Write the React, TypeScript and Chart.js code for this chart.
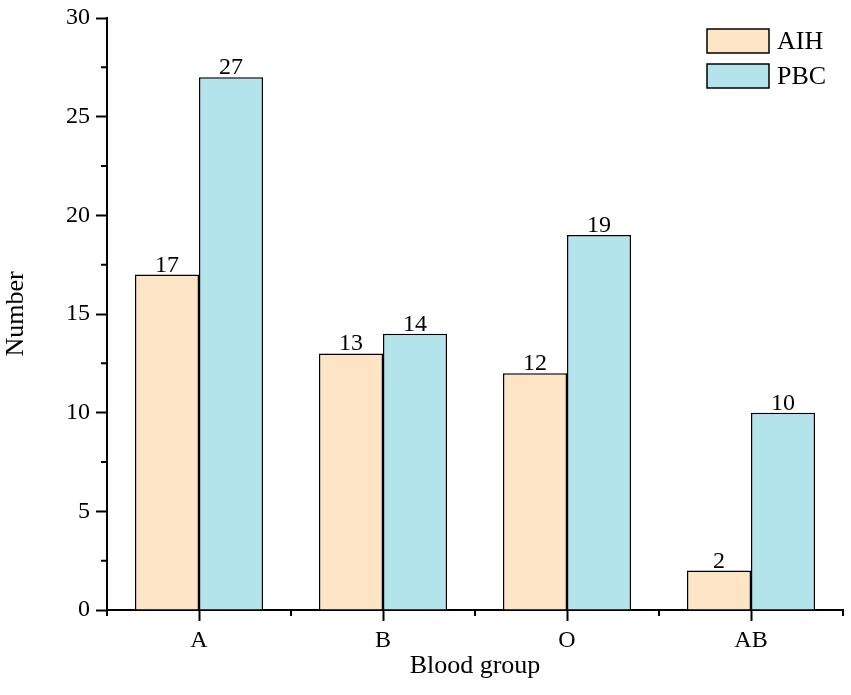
import React, { useEffect, useRef } from "react";
import { Chart, registerables } from "chart.js";

Chart.register(...registerables);

const categories = ["A", "B", "O", "AB"];
const aihValues = [17, 13, 12, 2];
const pbcValues = [27, 14, 19, 10];
const seriesLabels = ["AIH", "PBC"];
const yTicks = [0, 5, 10, 15, 20, 25, 30];

const AIH_COLOR = "#FDE4C5";
const PBC_COLOR = "#B3E4EC";
const FONT = "'Liberation Serif', 'Times New Roman', serif";

const decorPlugin = {
  id: "decor",
  afterDatasetsDraw(chart: any) {
    const ctx = chart.ctx;
    const xs = chart.scales.x;
    const ys = chart.scales.y;
    ctx.save();
    // value labels
    ctx.fillStyle = "#000";
    ctx.font = `24px ${FONT}`;
    ctx.textAlign = "center";
    ctx.textBaseline = "alphabetic";
    chart.data.datasets.forEach((ds: any, di: number) => {
      const meta = chart.getDatasetMeta(di);
      meta.data.forEach((bar: any, i: number) => {
        ctx.fillText(String(ds.data[i]), bar.x, bar.y - 3);
      });
    });
    // minor ticks
    ctx.strokeStyle = "#000";
    ctx.lineWidth = 2;
    ctx.beginPath();
    for (let v = 2.5; v < 30; v += 5) {
      const y = ys.getPixelForValue(v);
      ctx.moveTo(ys.right, y);
      ctx.lineTo(ys.right - 6, y);
    }
    const n = categories.length;
    for (let i = 0; i <= n; i++) {
      const x = xs.getPixelForValue(i - 0.5);
      ctx.moveTo(x, xs.top);
      ctx.lineTo(x, xs.top + 6);
    }
    ctx.stroke();
    // legend
    const boxW = 62;
    const boxH = 24;
    const lx = 707;
    const ly = [29, 64];
    ctx.font = `26px ${FONT}`;
    ctx.textAlign = "left";
    ctx.textBaseline = "middle";
    chart.data.datasets.forEach((ds: any, di: number) => {
      ctx.fillStyle = ds.backgroundColor;
      ctx.fillRect(lx, ly[di], boxW, boxH);
      ctx.lineWidth = 1.5;
      ctx.strokeStyle = "#000";
      ctx.strokeRect(lx, ly[di], boxW, boxH);
      ctx.fillStyle = "#000";
      ctx.fillText(ds.label, lx + boxW + 8, ly[di] + boxH / 2 + 1);
    });
    ctx.restore();
  },
};

export default function App() {
  const ref = useRef<HTMLCanvasElement | null>(null);
  useEffect(() => {
    if (!ref.current) return;
    const chart = new Chart(ref.current, {
      type: "bar",
      data: {
        labels: categories,
        datasets: [
          {
            label: seriesLabels[0],
            data: aihValues,
            backgroundColor: AIH_COLOR,
            borderColor: "#000",
            borderWidth: 1.5,
            categoryPercentage: 0.696,
            barPercentage: 1.0,
          },
          {
            label: seriesLabels[1],
            data: pbcValues,
            backgroundColor: PBC_COLOR,
            borderColor: "#000",
            borderWidth: 1.5,
            categoryPercentage: 0.696,
            barPercentage: 1.0,
          },
        ],
      },
      options: {
        animation: false,
        responsive: false,
        maintainAspectRatio: false,
        layout: { padding: { left: 0, right: 8, top: 4, bottom: 0 } },
        plugins: {
          legend: { display: false },
          tooltip: { enabled: false },
        },
        scales: {
          x: {
            offset: true,
            border: { display: true, color: "#000", width: 2 },
            grid: {
              offset: false,
              drawOnChartArea: false,
              drawTicks: true,
              tickLength: 11,
              tickWidth: 2,
              tickColor: "#000",
            },
            ticks: {
              color: "#000",
              font: { family: FONT, size: 24 },
              padding: 5,
              maxRotation: 0,
            },
            title: {
              display: true,
              text: "Blood group",
              color: "#000",
              font: { family: FONT, size: 26 },
              padding: { top: 0, bottom: 13 },
            },
            afterFit: (s: any) => {
              s.height = 85;
            },
          },
          y: {
            min: 0,
            max: 30,
            afterBuildTicks: (s: any) => {
              s.ticks = yTicks.map((v) => ({ value: v }));
            },
            border: { display: true, color: "#000", width: 2 },
            grid: {
              drawOnChartArea: false,
              drawTicks: true,
              tickLength: 11,
              tickWidth: 2,
              tickColor: "#000",
            },
            ticks: {
              color: "#000",
              font: { family: FONT, size: 24, lineHeight: 1 },
              padding: 6,
            },
            title: {
              display: true,
              text: "Number",
              color: "#000",
              font: { family: FONT, size: 26 },
              padding: { top: 1, bottom: 0 },
            },
            afterFit: (s: any) => {
              s.width = 107;
            },
          },
        },
      },
      plugins: [decorPlugin],
    });
    return () => chart.destroy();
  }, []);
  return (
    <div style={{ position: "fixed", left: 0, top: 0, width: 851, height: 695, background: "#fff" }}>
      <canvas ref={ref} width={851} height={695} style={{ width: 851, height: 695 }} />
    </div>
  );
}
